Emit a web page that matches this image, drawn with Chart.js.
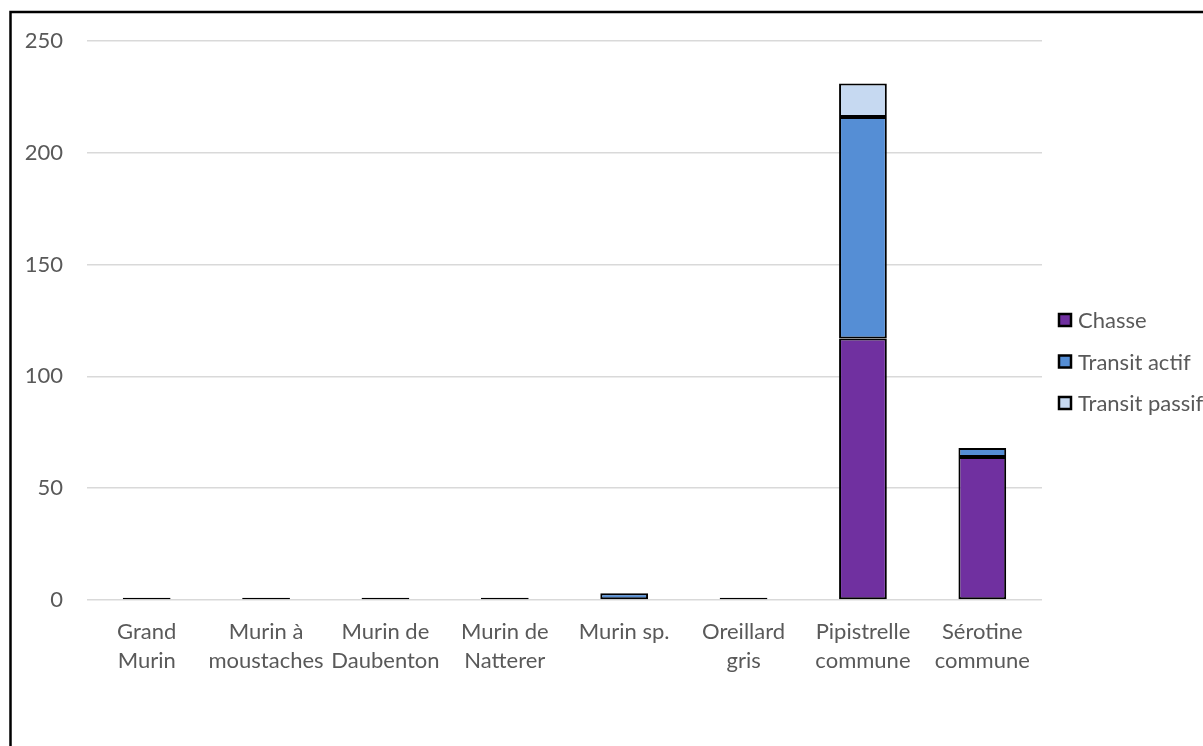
<!DOCTYPE html>
<html lang="fr">
<head>
<meta charset="utf-8">
<title>Activité des chiroptères par espèce</title>
<script src="https://cdn.jsdelivr.net/npm/chart.js@4.4.1/dist/chart.umd.min.js"></script>
<style>
  html, body { margin: 0; padding: 0; background: #ffffff; overflow: hidden; }
  #wrap { position: relative; width: 1203px; height: 746px; }
  canvas { display: block; }
</style>
</head>
<body>
<div id="wrap"><canvas id="chart" width="1203" height="746"></canvas></div>
<script>
// Species (multi-line tick labels)
const categories = [
  ["Grand", "Murin"],
  ["Murin à", "moustaches"],
  ["Murin de", "Daubenton"],
  ["Murin de", "Natterer"],
  "Murin sp.",
  ["Oreillard", "gris"],
  ["Pipistrelle", "commune"],
  ["Sérotine", "commune"]
];

// Number of contacts per behaviour
const chasse        = [0, 0, 0, 0, 0, 0, 117, 64];
const transitActif  = [1, 1, 1, 1, 3, 1, 99, 4];
const transitPassif = [0, 0, 0, 0, 0, 0, 15, 0];

const seriesNames = ["Chasse", "Transit actif", "Transit passif"];
const yTicks = [0, 50, 100, 150, 200, 250];

const FONT = "Lato, 'Liberation Sans', sans-serif";
const FONT_SIZE = 22;
const TEXT = "#595959";

// Outer frame of the chart object
const framePlugin = {
  id: "frame",
  beforeDraw(chart) {
    const ctx = chart.ctx;
    ctx.save();
    ctx.fillStyle = "#ffffff";
    ctx.fillRect(0, 0, chart.width, chart.height);
    ctx.strokeStyle = "#000000";
    ctx.lineWidth = 2.5;
    ctx.strokeRect(10.5, 12, chart.width + 20, chart.height + 20);
    ctx.restore();
  }
};

// Legend on the right, squares with a dark outline
const sideLegend = {
  id: "sideLegend",
  afterDraw(chart) {
    const ctx = chart.ctx;
    const x = chart.chartArea.right + 17;
    const y0 = 320;
    const step = 41.5;
    ctx.save();
    ctx.font = FONT_SIZE + "px " + FONT;
    ctx.textBaseline = "middle";
    chart.data.datasets.forEach((ds, i) => {
      const y = y0 + i * step;
      ctx.fillStyle = ds.backgroundColor;
      ctx.fillRect(x, y - 6, 12, 12);
      ctx.strokeStyle = "#000000";
      ctx.lineWidth = 2.5;
      ctx.strokeRect(x, y - 6, 12, 12);
      ctx.fillStyle = TEXT;
      ctx.fillText(ds.label, x + 19, y + 1);
    });
    ctx.restore();
  }
};

const barStyle = {
  borderColor: "#000000",
  borderWidth: 2,
  borderSkipped: false,
  barPercentage: 0.4,
  categoryPercentage: 1.0
};

new Chart(document.getElementById("chart"), {
  type: "bar",
  data: {
    labels: categories,
    datasets: [
      Object.assign({ label: seriesNames[0], data: chasse,        backgroundColor: "#7030A0" }, barStyle),
      Object.assign({ label: seriesNames[1], data: transitActif,  backgroundColor: "#558ED5" }, barStyle),
      Object.assign({ label: seriesNames[2], data: transitPassif, backgroundColor: "#C6D9F1" }, barStyle)
    ]
  },
  options: {
    responsive: false,
    animation: false,
    events: [],
    layout: { padding: { top: 41, left: 0, right: 161, bottom: 0 } },
    plugins: {
      legend: { display: false },
      tooltip: { enabled: false },
      title: { display: false }
    },
    scales: {
      x: {
        stacked: true,
        grid: { display: false, drawTicks: false },
        border: { display: false },
        ticks: {
          color: TEXT,
          font: { family: FONT, size: FONT_SIZE, lineHeight: 1.32 },
          padding: 17,
          maxRotation: 0,
          autoSkip: false
        },
        afterFit(scale) { scale.height = 146; }
      },
      y: {
        stacked: true,
        min: 0,
        max: 250,
        afterBuildTicks(scale) { scale.ticks = yTicks.map(v => ({ value: v })); },
        grid: { color: "#d9d9d9", lineWidth: 1.5, drawTicks: false },
        border: { display: false },
        ticks: {
          color: TEXT,
          font: { family: FONT, size: FONT_SIZE },
          padding: 24
        },
        afterFit(scale) { scale.width = 87; }
      }
    }
  },
  plugins: [framePlugin, sideLegend]
});
</script>
</body>
</html>
